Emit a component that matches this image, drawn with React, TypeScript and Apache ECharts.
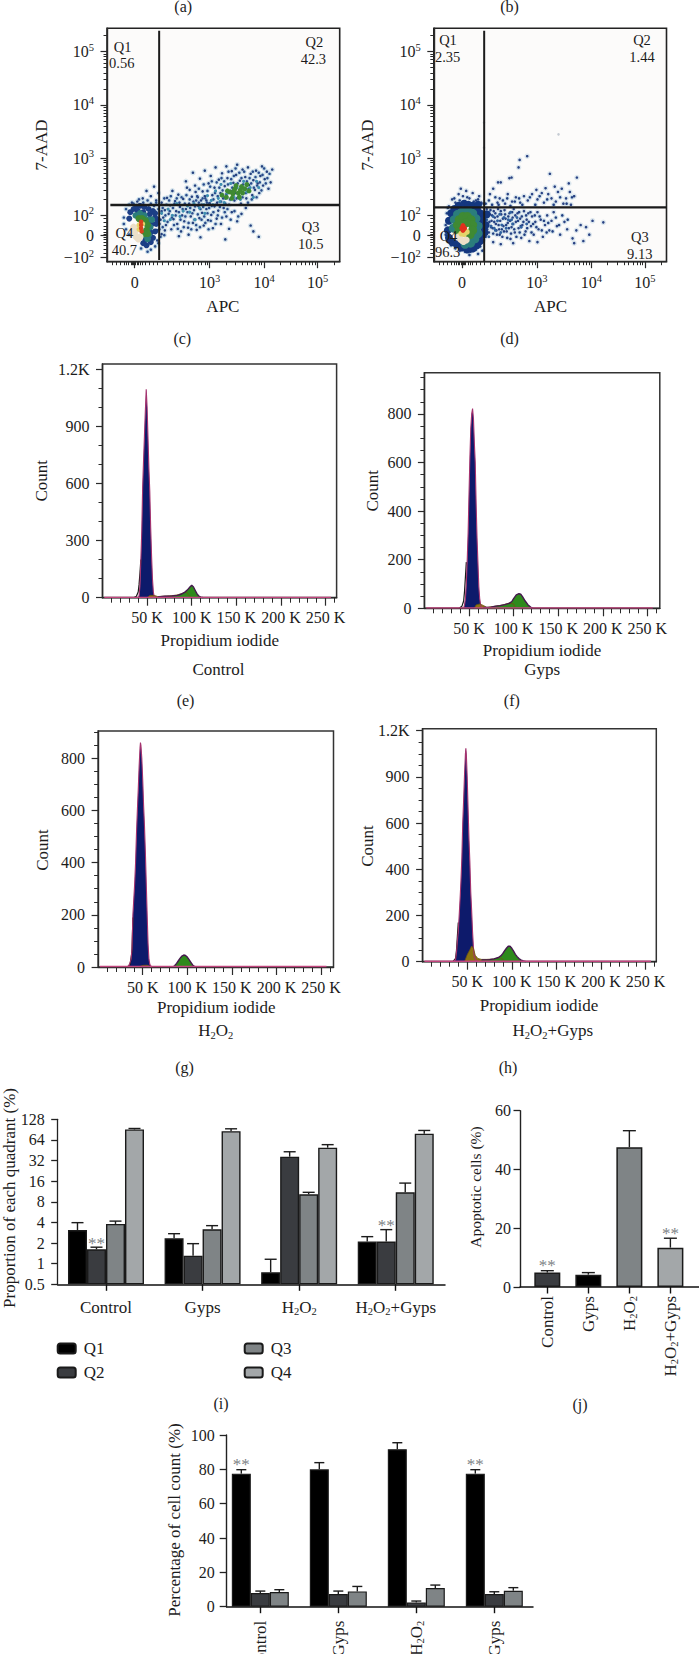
import React, { useEffect, useRef } from "react";
import * as echarts from "echarts";

const FONT = '"Liberation Serif", serif';
const INK = "#1c1c1c";

// ---------- flow cytometry panels: positions are in decades of the biexponential axis ----------
const flowXMajor = [0, 1.39, 2.4, 3.39];
const flowXLabels = ["0", "3", "4", "5"];
const flowYMajor = [-0.41, 0, 0.3875, 1.45, 2.45, 3.45];
const flowYLabels = ["-2", "0", "2", "3", "4", "5"];
const flowXMinor = [-0.42, -0.34, -0.27, -0.2, -0.15, -0.11, -0.07, -0.04, -0.02, 0.02, 0.04, 0.07, 0.11, 0.15, 0.2, 0.27, 0.34, 0.42, 0.52, 0.62, 0.72, 0.82, 0.9, 1.0, 1.09, 1.17, 1.24, 1.3, 1.35, 1.69, 1.87, 1.99, 2.09, 2.17, 2.24, 2.3, 2.35, 2.7, 2.88, 3.0, 3.09, 3.17, 3.24, 3.3, 3.35, 3.69];
const flowYMinor = [-0.33, -0.25, -0.18, -0.12, -0.07, -0.03, 0.03, 0.07, 0.12, 0.18, 0.25, 0.33, 0.68, 0.86, 0.98, 1.08, 1.17, 1.25, 1.31, 1.37, 1.41, 1.75, 1.93, 2.05, 2.15, 2.23, 2.3, 2.36, 2.41, 2.75, 2.93, 3.05, 3.15, 3.23, 3.3, 3.36, 3.41, 3.75];

const cNavy = [[0.95,1.02],[1.02,0.86],[1.08,1.18],[1.12,0.94],[1.17,0.72],[1.21,1.07],[1.26,0.83],[1.3,1.22],[1.33,0.66],[1.37,0.98],[1.41,1.12],[1.44,0.76],[1.48,0.9],[1.5,1.28],[1.53,0.62],[1.56,1.05],[1.59,0.8],[1.62,1.17],[1.64,0.7],[1.67,0.93],[1.7,1.3],[1.72,1.08],[1.75,0.58],[1.78,0.84],[1.8,1.21],[1.83,0.99],[1.85,0.66],[1.88,1.14],[1.9,1.33],[1.93,0.77],[1.95,1.03],[1.97,0.6],[2.0,1.24],[2.02,0.88],[2.05,1.1],[2.07,0.7],[2.1,1.28],[2.12,0.95],[2.15,1.16],[2.18,0.76],[2.2,1.04],[2.23,0.86],[2.25,1.22],[2.28,0.98],[2.31,0.8],[2.33,1.12],[2.36,1.3],[2.38,0.94],[2.41,1.06],[2.45,1.2],[2.48,0.88],[2.52,1.0],[2.55,1.24],
[0.5,0.62],[0.53,0.34],[0.56,0.48],[0.58,0.2],[0.6,0.71],[0.63,0.41],[0.66,0.57],[0.68,0.12],[0.7,0.84],[0.72,0.31],[0.75,0.65],[0.77,0.46],[0.79,0.22],[0.81,0.77],[0.84,0.54],[0.86,0.08],[0.88,0.38],[0.9,0.69],[0.92,0.27],[0.95,0.5],[0.97,0.9],[0.99,0.15],[1.01,0.6],[1.04,0.36],[1.06,0.73],[1.08,0.24],[1.1,0.48],[1.13,0.82],[1.15,0.11],[1.18,0.56],[1.2,0.33],[1.23,0.66],[1.25,0.43],[1.28,0.19],[1.3,0.74],[1.33,0.5],[1.36,0.29],[1.39,0.61],[1.42,0.39],[1.45,0.14],[1.48,0.55],[1.52,0.32],[1.55,0.47],[1.6,0.22],[1.65,0.52],[1.7,0.36],[1.75,0.13],[1.8,0.44],[1.9,0.27],[1.98,0.41],[2.06,0.52],[2.15,0.19],[2.2,0.08],[1.22,-0.03],[1.0,0.02],[0.82,-0.01],[1.68,-0.07],[2.3,-0.02],
[0.44,0.8],[0.36,0.92],[0.3,0.74],[0.22,0.84],[0.15,0.7],[0.05,0.64],[0.4,0.66],[-0.05,0.62],[0.42,0.1],[0.46,0.22],[0.5,0.03],[0.56,0.1],[0.42,-0.09],[0.48,0.3]];
const cNavy2 = [[1.14,0.66],[1.19,0.88],[1.24,0.58],[1.28,0.96],[1.31,0.7],[1.35,0.84],[1.38,0.6],[1.4,0.92],[1.43,1.02],[1.46,0.68],[1.49,0.8],[1.52,1.0],[1.54,0.74],[1.57,0.9],[1.6,0.64],[1.61,1.08],[1.63,0.85],[1.66,1.02],[1.68,0.6],[1.7,0.78],[1.73,0.96],[1.74,1.2],[1.77,0.68],[1.79,1.06],[1.81,0.9],[1.84,1.12],[1.86,0.8],[1.87,1.26],[1.89,0.7],[1.91,0.98],[1.94,1.18],[1.96,0.84],[1.98,1.08],[2.0,0.72],[2.01,0.96],[2.03,1.2],[2.06,0.8],[2.08,1.02],[2.1,0.62],[2.11,0.88],[2.13,1.08],[2.16,0.98],[2.17,0.68],[2.19,1.2],[2.21,0.9],[2.24,1.1],[2.26,0.72],[2.27,0.94],[2.3,1.18],[2.32,1.0],[2.35,0.85],[2.37,1.14],[2.4,1.26],[2.43,0.98],[2.46,1.08],[2.5,1.16],
[0.52,0.52],[0.55,0.7],[0.57,0.38],[0.59,0.58],[0.61,0.26],[0.64,0.66],[0.65,0.46],[0.67,0.74],[0.69,0.34],[0.71,0.52],[0.73,0.2],[0.74,0.6],[0.76,0.38],[0.78,0.7],[0.8,0.13],[0.82,0.44],[0.83,0.62],[0.85,0.3],[0.87,0.72],[0.89,0.5],[0.91,0.16],[0.93,0.6],[0.94,0.36],[0.96,0.76],[0.98,0.44],[1.0,0.24],[1.02,0.68],[1.03,0.52],[1.05,0.12],[1.07,0.42],[1.09,0.64],[1.11,0.3],[1.12,0.55],[1.14,0.2],[1.16,0.74],[1.17,0.4],[1.19,0.62],[1.21,0.16],[1.22,0.5],[1.24,0.3],[1.26,0.7],[1.27,0.54],[1.29,0.36],[1.31,0.24],[1.34,0.62],[1.35,0.42],[1.37,0.12],[1.38,0.52],[1.41,0.28],[1.43,0.56],[1.46,0.44],[1.5,0.22],[1.51,0.58],[1.54,0.38],[1.58,0.54],[1.62,0.34],[1.67,0.44],[1.72,0.5],[1.78,0.3],[1.85,0.46],[1.92,0.36],
[-0.2,0.34],[-0.16,0.5],[-0.1,0.58],[-0.02,0.6],[0.08,0.68],[0.16,0.62],[0.24,0.66],[0.3,0.6],[0.36,0.56],[0.4,0.62],[0.44,0.5],[0.46,0.12],[0.48,-0.02],[0.44,-0.14],[0.38,-0.2],[0.3,-0.26],[0.24,-0.3],[0.12,-0.24],[0.5,0.46],[0.52,0.16],[0.55,0.01],[-0.16,0.12],[-0.2,0.22],[-0.1,0.02]];
const cMid = [[1.35,0.75],[1.42,0.66],[1.5,0.84],[1.55,0.7],[1.6,0.96],[1.66,0.62],[1.72,0.8],[1.78,0.98],[1.84,0.72],[1.9,0.9],[1.96,0.68],[2.02,1.02],[2.08,0.82],[2.14,0.9],[2.2,0.72],[2.26,1.02],[2.3,0.9],[1.1,0.6],[1.2,0.52],[1.28,0.58],[0.9,0.46],[0.98,0.56],[0.78,0.6],[0.7,0.38],[0.62,0.5],[0.55,0.28],[1.12,0.3],[1.3,0.42],[1.45,0.58],[1.58,0.64],[1.68,0.7],[0.66,0.3],[0.84,0.36],[1.02,0.44],[0.5,0.42],[0.46,0.58]];
const cGreen = [[1.62,0.76],[1.7,0.72],[1.76,0.82],[1.82,0.78],[1.86,0.88],[1.92,0.8],[1.98,0.92],[2.04,0.88],[2.08,0.96],[1.94,0.72],[1.8,0.7],[2.0,0.8],[1.72,0.84],[2.12,0.84],[1.88,0.94],[1.84,0.84],[1.96,0.86]];
const cBlobNavy = [[-0.1,0.32],[-0.08,0.44],[-0.02,0.5],[0.04,0.54],[0.1,0.56],[0.18,0.54],[0.26,0.5],[0.34,0.46],[0.38,0.34],[0.4,0.22],[0.38,0.08],[0.34,-0.04],[0.3,-0.12],[0.22,-0.18],[0.16,-0.14],[0.28,0.4],[0.32,0.22],[0.3,0.06],[0.2,-0.08],[0.06,0.46],[0.16,0.44],[0.38,0.42],[0.42,0.3]];
const cBlobTeal = [[0.02,0.38],[0.1,0.42],[0.18,0.38],[0.26,0.3],[0.29,0.16],[0.26,0.02],[0.2,0.0],[0.32,0.3],[0.24,-0.06]];
const cBlobGreen = [[0.08,0.32],[0.14,0.32],[0.2,0.28],[0.24,0.2],[0.22,0.1],[0.24,0.04],[0.18,0.04]];
const cBlobYellow = [[0.08,0.2],[0.08,0.12],[0.15,0.22]];
const cBlobRed = [[0.12,0.26],[0.12,0.2],[0.12,0.14],[0.13,0.08]];
const cBlobPale = [[-0.02,0.16],[0.0,0.06],[0.03,-0.02],[0.07,-0.06],[0.04,0.12],[0.1,-0.02]];

const dNavy = [[1.21,1.49],[1.07,1.42],[1.05,1.28],[1.63,1.16],[2.13,1.09],[0.92,1.09],[0.67,1.0],[1.98,0.98],[0.72,1.0],[0.88,1.08],[1.38,0.86],[1.55,0.89],[1.72,0.92],[1.78,0.82],[1.85,0.88],[1.93,0.7],[2.0,0.82],[2.08,0.74],[1.6,0.78],[1.48,0.8],[1.3,0.78],[1.15,0.74],[1.0,0.72],[0.85,0.78],[0.7,0.7],[0.58,0.88],[0.52,0.78],[1.4,0.68],[1.52,0.62],[1.66,0.7],[1.22,0.66],[1.08,0.62],[0.93,0.64],[0.8,0.6],[0.66,0.62],[2.02,0.58],[1.88,0.6],[1.74,0.64],
[0.42,0.34],[0.46,0.5],[0.48,0.2],[0.5,0.06],[0.52,0.4],[0.55,0.28],[0.57,0.14],[0.59,0.46],[0.61,0.34],[0.63,0.22],[0.65,0.02],[0.67,0.5],[0.69,0.12],[0.71,0.28],[0.73,0.4],[0.75,-0.02],[0.77,0.18],[0.79,0.48],[0.81,0.32],[0.83,0.08],[0.85,0.24],[0.88,0.42],[0.9,-0.06],[0.92,0.16],[0.94,0.34],[0.96,0.5],[0.98,0.06],[1.0,0.26],[1.03,0.42],[1.05,0.14],[1.08,0.32],[1.1,-0.04],[1.12,0.2],[1.15,0.46],[1.18,0.08],[1.2,0.3],[1.23,0.42],[1.25,-0.1],[1.28,0.18],[1.3,0.36],[1.33,0.02],[1.36,0.26],[1.4,0.44],[1.42,0.12],[1.46,0.3],[1.5,-0.02],[1.54,0.2],[1.58,0.38],[1.62,0.1],[1.66,0.28],[1.7,0.44],[1.76,0.18],[1.82,0.02],[1.9,0.26],[1.95,0.12],[2.05,-0.05],[2.12,0.1],[2.2,0.2],[2.3,0.16],[2.36,0.02],[2.25,-0.1],[2.08,-0.14],[1.4,-0.12],[0.95,-0.14],[0.72,-0.16],[0.58,-0.12],[2.62,0.25],[2.42,0.28],
[-0.24,0.55],[-0.18,0.68],[-0.12,0.62],[-0.06,0.78],[0.02,0.74],[0.08,0.84],[0.14,0.7],[0.2,0.8],[0.26,0.66],[0.32,0.74],[0.36,0.62],[-0.02,0.88],[0.06,0.65]];
const dNavy2 = [[0.45,0.42],[0.47,0.12],[0.49,0.36],[0.51,0.26],[0.53,0.48],[0.54,0.16],[0.56,0.38],[0.58,0.04],[0.6,0.26],[0.62,0.42],[0.64,0.1],[0.66,0.36],[0.68,0.2],[0.7,0.02],[0.72,0.46],[0.74,0.12],[0.76,0.32],[0.78,0.08],[0.8,0.4],[0.82,0.2],[0.84,-0.04],[0.86,0.36],[0.87,0.14],[0.89,0.28],[0.91,0.04],[0.93,0.44],[0.95,0.22],[0.97,0.12],[0.99,0.38],[1.01,-0.02],[1.04,0.28],[1.06,0.44],[1.07,0.06],[1.09,0.18],[1.11,0.36],[1.14,0.26],[1.16,0.02],[1.19,0.38],[1.21,0.14],[1.24,0.26],[1.27,0.44],[1.29,0.06],[1.32,0.22],[1.35,0.38],[1.38,0.16],[1.44,0.36],[1.48,0.1],[1.52,0.28],[1.57,0.06],[1.6,0.24],[1.68,0.08],[1.74,0.34],[1.8,0.2],[1.86,0.38],[1.96,0.3],
[0.44,0.6],[0.5,0.66],[0.56,0.58],[0.62,0.72],[0.68,0.58],[0.76,0.66],[0.84,0.7],[0.9,0.56],[0.98,0.64],[1.06,0.7],[1.12,0.58],[1.26,0.72],[1.36,0.58],[1.44,0.74],[1.58,0.68],[1.7,0.58],[1.82,0.72],[1.94,0.6],[2.04,0.72],
[-0.28,0.42],[-0.3,0.2],[-0.3,0.02],[-0.26,-0.1],[-0.2,-0.18],[-0.12,-0.24],[-0.04,-0.28],[0.06,-0.3],[0.16,-0.3],[0.26,-0.26],[0.34,-0.2],[0.4,-0.08],[0.44,-0.02],[-0.26,0.52],[-0.14,0.7],[-0.04,0.66],[0.1,0.72],[0.22,0.64],[0.3,0.68],[0.4,0.6],[0.38,-0.28],[0.3,-0.34],[0.14,-0.36]];
const dMid = [[0.46,0.3],[0.5,0.44],[0.54,0.18],[0.58,0.36],[0.62,0.1],[0.66,0.28],[0.7,0.4],[0.74,0.2],[0.78,0.34],[0.82,0.14],[0.86,0.3],[0.9,0.44],[0.94,0.22],[1.02,0.34],[1.1,0.16],[1.2,0.22],[0.5,-0.02],[0.44,0.1],[0.6,0.14],[0.72,0.06],[0.92,0.3]];
const dBlobNavy = [[-0.26,0.1],[-0.24,0.28],[-0.2,0.42],[-0.14,0.5],[-0.06,0.56],[0.04,0.6],[0.12,0.58],[0.2,0.56],[0.28,0.5],[0.34,0.42],[0.38,0.3],[0.4,0.16],[0.38,0.02],[0.34,-0.1],[0.28,-0.18],[0.2,-0.24],[0.1,-0.26],[-0.24,-0.04],[-0.18,-0.12],[-0.1,-0.16],[0.0,-0.22],[0.46,0.4],[0.44,0.2],[0.42,0.06],[0.3,0.58]];
const dBlobTeal = [[-0.16,0.14],[-0.14,0.3],[-0.08,0.4],[0.02,0.46],[0.12,0.46],[0.2,0.42],[0.26,0.32],[0.3,0.18],[0.3,0.04],[0.24,-0.06],[0.16,-0.14],[0.06,-0.16]];
const dBlobGreen = [[-0.08,0.2],[-0.05,0.3],[0.02,0.36],[0.1,0.36],[0.17,0.3],[0.2,0.2],[0.2,0.1],[0.15,0.02],[-0.06,0.08],[0.08,0.24]];
const dBlobYellow = [[-0.01,0.04],[0.04,0.03],[0.09,0.07]];
const dBlobRed = [[0.0,0.14],[0.05,0.14],[0.02,0.19],[0.02,0.1]];
const dBlobPale = [[-0.02,-0.07],[0.03,-0.11],[-0.06,-0.02],[0.08,-0.08]];
const dFaint = [[1.79,1.9],[0.41,2.12],[0.41,1.65]];

// ---------- DNA content histograms ----------
const histXMajor = [50, 100, 150, 200, 250];
const histXMinor = [10, 20, 30, 40, 60, 70, 80, 90, 110, 120, 130, 140, 160, 170, 180, 190, 210, 220, 230, 240, 260];

const eG1 = [[40,0],[41,10],[42,60],[43,200],[44,350],[45,580],[46,720],[47,850],[48,980],[49,1095],[50,1000],[51,840],[52,680],[53,560],[54,370],[55,220],[56,100],[57,30],[58,5],[59,0]];
const eFlank = [[35,0],[38,8],[40,30],[41,70],[42,130],[43,200]];
const eS = [[50,0],[53,12],[58,12],[62,6],[68,8],[75,10],[80,12],[85,16],[90,24],[94,30],[98,6],[100,0]];
const eG2 = [[62,4],[70,8],[78,9],[84,12],[88,18],[92,28],[95,40],[98,56],[100,66],[102,56],[104,38],[106,20],[108,9],[110,3],[113,0]];
const fG1 = [[44,0],[45,15],[46,40],[47,100],[48,200],[49,310],[50,470],[51,620],[52,740],[53,800],[54,822],[55,780],[56,680],[57,600],[58,430],[59,290],[60,190],[61,90],[62,40],[63,15],[64,3]];
const fFlank = [[39,0],[42,8],[44,30],[45,70],[46,130],[47,190]];
const fS = [[56,0],[58,14],[62,18],[66,12],[70,4],[78,8],[85,12],[90,16],[95,22],[100,18],[102,0]];
const fG2 = [[66,3],[75,5],[80,9],[85,11],[90,15],[95,20],[98,28],[100,40],[103,55],[106,60],[108,58],[110,48],[113,30],[116,15],[119,5],[122,0]];
const gG1 = [[33,0],[35,8],[37,30],[38,70],[39,200],[40,260],[41,320],[42,400],[43,510],[44,600],[45,680],[46,770],[47,840],[47.5,860],[48,850],[49,800],[50,720],[51,620],[52,540],[53,440],[54,320],[55,200],[56,90],[57,30],[58,10],[60,0]];
const gFlank = [[33,0],[36,12],[38,60],[39,190]];
const gS = [[45,0],[50,6],[55,7],[60,0]];
const gG2 = [[84,0],[86,6],[88,14],[90,24],[92,34],[94,42],[96,46],[98,44],[100,38],[102,28],[104,18],[106,8],[108,2],[110,0]];
const hG1 = [[35,0],[37,10],[38,40],[39,90],[40,130],[41,200],[42,270],[43,350],[44,450],[45,600],[46,700],[47,810],[48,900],[48.5,924],[49,900],[50,800],[51,660],[52,530],[53,430],[54,300],[55,220],[56,130],[57,60],[58,20],[60,5],[62,0]];
const hFlank = [[34,0],[37,14],[38,50],[39,110],[40,170]];
const hS = [[47,0],[50,30],[53,52],[55,68],[57,58],[59,28],[62,14],[66,10],[72,10],[80,12],[86,18],[90,10],[92,0]];
const hG2 = [[66,8],[75,9],[80,12],[85,18],[88,26],[90,36],[92,48],[94,58],[96,67],[98,67],[100,58],[102,46],[104,32],[106,22],[108,14],[110,8],[113,3],[116,0]];
const baseline = [[2,2],[256,2]];

// ---------- bar panels ----------
const groups = ["Control", "Gyps", "H2O2", "H2O2+Gyps"];
const groupPos = [0, 1, 2, 3];
const quadNames = ["Q1", "Q2", "Q3", "Q4"];
const quadBars = [[3.1, 2.35, 0.75, 2.1], [1.62, 1.31, 36.4, 2.1], [3.8, 3.17, 10.3, 11], [91, 86, 49.3, 79]];
const quadErrs = [[3.97, 2.74, 1.16, 2.48], [1.74, 1.96, 43, 3.14], [4.18, 3.59, 11, 15], [94, 93, 54.6, 88]];
const quadStars = [[0, 0, 0, 0], [1, 0, 0, 1], [0, 0, 0, 0], [0, 0, 0, 0]];
const apoBars = [4.9, 4.2, 47.6, 13.4];
const apoErrs = [5.55, 4.9, 53.2, 16.6];
const apoStars = [1, 0, 0, 1];
const phaseNames = ["G0/G1", "S", "G2/M"];
const phaseBars = [[77.5, 80, 91.7, 77.5], [8, 7.4, 2.5, 7.4], [8.5, 8.9, 10.9, 9.3]];
const phaseErrs = [[79.8, 83.9, 95.5, 79.8], [9.1, 9.1, 3.3, 8.7], [9.9, 11.8, 12.6, 11.1]];
const phaseStars = [[1, 0, 0, 1], [0, 0, 0, 0], [0, 0, 0, 0]];
const barColors = ["#000000", "#3a3c40", "#7f8486", "#a3a7a9"];
const apoColors = ["#3a3c40", "#000000", "#7f8486", "#a3a7a9"];

const richBase = {
  b: { fontFamily: FONT, fontSize: 17, color: INK, lineHeight: 20 },
  sub: { fontFamily: FONT, fontSize: 10.5, color: INK, lineHeight: 20, verticalAlign: "bottom", padding: [7, 0, 0, 0] },
  sup: { fontFamily: FONT, fontSize: 10.5, color: INK, lineHeight: 20, verticalAlign: "top", padding: [0, 0, 7, 0] },
  t: { fontFamily: FONT, fontSize: 16, color: INK, lineHeight: 20 },
};
const chem = (s: string) => s.split(/(2)/).map((p, i) => (p === "2" ? `{sub|2}` : p ? `{b|${p}}` : "")).join("");
// the quadrant axis is a base-2 log axis whose floor is 0.5; heights are counted from that floor
const log2Floor = (v: number) => Math.log2(v) + 1;

const App = () => {
  const ref = useRef<HTMLDivElement>(null);
  useEffect(() => {
    const chart = echarts.init(ref.current!, null, { renderer: "svg" });
    const grid: any[] = [];
    const xAxis: any[] = [];
    const yAxis: any[] = [];
    const series: any[] = [];
    const texts: any[] = [];

    const addGrid = (g: any) => grid.push({ outerBoundsMode: "none", containLabel: false, ...g });

    const T = (text: string, x: number, y: number, size = 17, rotation = 0, rich = false) => {
      texts.push({
        type: "text", x, y, rotation, z: 50,
        style: {
          text, align: "center", verticalAlign: "middle", fontFamily: FONT, fontSize: size, fill: INK,
          ...(rich ? { rich: richBase } : {}),
        },
      });
    };

    const addAxes = (kind: "x" | "y", gi: number, min: number, max: number, minor: number[], major: number[], fmt: (v: number) => string, opt: any = {}) => {
      const list = kind === "x" ? xAxis : yAxis;
      const pos = kind === "x" ? "bottom" : "left";
      const color = opt.color || "#2a2a2a";
      list.push({
        gridIndex: gi, type: "value", position: pos, min, max, splitLine: { show: false },
        axisLine: { show: true, onZero: false, lineStyle: { color, width: opt.lineWidth || 1.4 } },
        axisTick: { show: minor.length > 0, customValues: minor, length: opt.minorLen || 3.5, lineStyle: { color, width: 1 } },
        axisLabel: { show: false },
      });
      list.push({
        gridIndex: gi, type: "value", position: pos, min, max, splitLine: { show: false },
        axisLine: { show: false, onZero: false },
        axisTick: { show: true, customValues: major, length: opt.majorLen || 6.5, lineStyle: { color, width: opt.tickWidth || 1.2 } },
        axisLabel: {
          show: true, customValues: major, formatter: fmt, margin: opt.margin ?? 12, rotate: opt.rotate || 0,
          fontFamily: FONT, fontSize: opt.fontSize || 16, color: INK, rich: richBase, hideOverlap: false, showMinLabel: true, showMaxLabel: true,
        },
      });
    };

    // ---- flow panels
    const flow = (box: number[], xMin: number, xMax: number, gateV: number, gateVTop: number, gateVBot: number, gateH: number, gateHLeft: number, layers: any[]) => {
      const gi = grid.length;
      addGrid({ left: box[0], top: box[1], width: box[2] - box[0], height: box[3] - box[1], show: true, backgroundColor: "#fcfbfa", borderColor: "#222", borderWidth: 1.6 });
      const labelOf = (ticks: number[], lab: string[], v: number) => {
        let k = 0;
        ticks.forEach((t, i) => { if (Math.abs(t - v) < Math.abs(ticks[k] - v)) k = i; });
        const s = lab[k];
        if (s === "0") return "{t|0}";
        return s[0] === "-" ? `{t|−10}{sup|2}` : `{t|10}{sup|${s}}`;
      };
      addAxes("x", gi, xMin, xMax, flowXMinor, flowXMajor, (v) => labelOf(flowXMajor, flowXLabels, v), { margin: 11, fontSize: 16 });
      addAxes("y", gi, -0.4875, 3.8875, flowYMinor, flowYMajor, (v) => labelOf(flowYMajor, flowYLabels, v), { margin: 13, fontSize: 16 });
      const xi = xAxis.length - 2, yi = yAxis.length - 2;
      layers.forEach(([data, color, size]) => {
        series.push({ type: "scatter", xAxisIndex: xi, yAxisIndex: yi, data, symbolSize: size, itemStyle: { color, opacity: 1 }, silent: true });
      });
      const gate = (data: number[][], width: number) => series.push({ type: "line", xAxisIndex: xi, yAxisIndex: yi, data, showSymbol: false, lineStyle: { color: "#1b1b1b", width }, silent: true, z: 10 });
      gate([[gateV, gateVBot], [gateV, gateVTop]], 2);
      gate([[gateHLeft, gateH], [xMax, gateH]], 2.4);
    };
    flow([107, 28.3, 339.7, 261.7], -0.512, 3.8, 0.4545, 3.84, -0.455, 0.575, -0.45, [
      [cNavy, "#d6e4ec", 5.5], [cNavy2, "#c7dde8", 5], [cNavy, "#24407f", 2.6], [cNavy2, "#2a4c8c", 2.6], [cMid, "#3f8fb0", 3.2], [cGreen, "#3f8a33", 5],
      [cBlobNavy, "#1c3f86", 6], [cBlobTeal, "#2b7d7c", 6.5], [cBlobGreen, "#3f8a33", 7], [cBlobPale, "#ecdfc8", 7], [cBlobYellow, "#e5d46a", 5], [cBlobRed, "#d9421e", 4.5],
    ]);
    flow([433.8, 28.3, 666.5, 261.7], -0.52, 3.79, 0.413, 3.84, -0.4875, 0.53, -0.52, [
      [dFaint, "#c5cbd2", 2.6], [dNavy, "#dde7ee", 5.5], [dNavy2, "#cfe0ea", 5], [dNavy, "#2a4384", 2.6], [dNavy2, "#223f82", 2.6], [dMid, "#2f62a0", 3], [dBlobNavy, "#14377f", 8],
      [dBlobTeal, "#2b7d7c", 9], [dBlobGreen, "#3f8a33", 9], [dBlobPale, "#ecdfc8", 7], [dBlobYellow, "#e5d46a", 6], [dBlobRed, "#e0301c", 5],
    ]);

    // ---- histograms
    const hist = (box: number[], xMax: number, yMax: number, yMajor: number[], yLabels: string[], yMinor: number[], G1: number[][], flank: number[][], S: number[][], G2: number[][]) => {
      const gi = grid.length;
      addGrid({ left: box[0], top: box[1], width: box[2] - box[0], height: box[3] - box[1], show: true, borderColor: "#333", borderWidth: 1.5, backgroundColor: "#fff" });
      addAxes("x", gi, 0, xMax, histXMinor, histXMajor, (v) => `${v} K`, { margin: 12, majorLen: 8, minorLen: 5 });
      addAxes("y", gi, 0, yMax, yMinor, yMajor, (v) => yLabels[yMajor.indexOf(v)] ?? "", { margin: 13, majorLen: 6.5, minorLen: 4 });
      const xi = xAxis.length - 2, yi = yAxis.length - 2;
      const ln = (data: number[][], color: string, width: number, fill?: string) => series.push({
        type: "line", xAxisIndex: xi, yAxisIndex: yi, data, showSymbol: false, silent: true,
        lineStyle: { color, width }, ...(fill ? { areaStyle: { color: fill, opacity: 1 } } : {}),
      });
      ln(flank, "#1a1a1a", 1.2);
      ln(G1, "#a5336f", 1.1, "#0d1a6b");
      ln(S, "#6e5410", 0.8, "#8c7410");
      ln(G2, "#45184e", 1.4, "#2e8a1c");
      ln(baseline, "#c2457e", 1.3);
    };
    hist([102.5, 364, 336.6, 597.7], 262.4, 1228, [0, 300, 600, 900, 1200], ["0", "300", "600", "900", "1.2K"], [100, 200, 400, 500, 700, 800, 1000, 1100], eG1, eFlank, eS, eG2);
    hist([424.4, 372.7, 659.8, 608.3], 263.9, 969.6, [0, 200, 400, 600, 800], ["0", "200", "400", "600", "800"], [50, 100, 150, 250, 300, 350, 450, 500, 550, 650, 700, 750, 850, 900, 950], fG1, fFlank, fS, fG2);
    hist([98.1, 731, 333.5, 967], 263.9, 904.7, [0, 200, 400, 600, 800], ["0", "200", "400", "600", "800"], [50, 100, 150, 250, 300, 350, 450, 500, 550, 650, 700, 750, 850, 900], gG1, gFlank, gS, gG2);
    hist([422.6, 728.7, 656.3, 961.7], 262, 1008.7, [0, 200, 400, 600, 800, 1000], ["0", "200", "400", "600", "900", "1.2K"], [50, 100, 150, 250, 300, 350, 450, 500, 550, 650, 700, 750, 850, 900, 950], hG1, hFlank, hS, hG2);

    // ---- bar panels
    const errSeries = (xi: number, yi: number, name: string, offset: number, xs: number[], bars: number[], errs: number[], stars: number[], capW: number, starGap: number) => {
      series.push({
        type: "custom", name, xAxisIndex: xi, yAxisIndex: yi, silent: true, z: 4, clip: false,
        data: xs.map((x, i) => [x, bars[i], errs[i], stars[i]]),
        encode: { x: 0, y: 2 },
        renderItem: (_: any, api: any) => {
          const a = api.coord([api.value(0), api.value(1)]);
          const b = api.coord([api.value(0), api.value(2)]);
          const x = a[0] + offset;
          const s = { stroke: "#1c1c1c", lineWidth: 1.4, fill: "none" };
          const children: any[] = [
            { type: "line", shape: { x1: x, y1: a[1], x2: x, y2: b[1] }, style: s },
            { type: "line", shape: { x1: x - capW / 2, y1: b[1], x2: x + capW / 2, y2: b[1] }, style: s },
          ];
          if (api.value(3)) children.push({ type: "text", style: { text: "**", x, y: b[1] - starGap, align: "center", verticalAlign: "middle", fontFamily: FONT, fontSize: 17, fill: "#7d8285" } });
          return { type: "group", children };
        },
      });
    };
    const barAxes = (gi: number, xMin: number, xMax: number, rotate: number, margin: number) => {
      addAxes("x", gi, xMin, xMax, [], groupPos, (v) => chem(groups[Math.round(v)]), { margin, rotate, color: "#111", lineWidth: 1.5, tickWidth: 1.4, majorLen: 6.5 });
    };

    // (i)
    let gi = grid.length;
    addGrid({ left: 57.7, top: 1119.3, width: 387.3, height: 165 });
    barAxes(gi, -0.5, 3.51, 0, 13);
    yAxis.push({
      gridIndex: gi, type: "value", min: 0, max: 8, interval: 1, splitLine: { show: false },
      axisLine: { show: true, onZero: false, lineStyle: { color: "#222", width: 1.3 } },
      axisTick: { show: true, length: 6.5, lineStyle: { color: "#222", width: 1.3 } },
      axisLabel: { margin: 13, fontFamily: FONT, fontSize: 16, color: INK, formatter: (v: number) => String(Math.pow(2, v - 1)), showMinLabel: true, showMaxLabel: true },
    });
    let xi = xAxis.length - 2, yi = yAxis.length - 1;
    quadNames.forEach((n, k) => {
      series.push({
        type: "bar", name: n, xAxisIndex: xi, yAxisIndex: yi, barWidth: 19, barGap: "0%",
        data: groupPos.map((x, i) => [x, log2Floor(quadBars[k][i])]), itemStyle: { color: barColors[k], borderColor: "#1a1a1a", borderWidth: 1.4 }, silent: true,
      });
    });
    quadNames.forEach((n, k) => errSeries(xi, yi, "err" + n, (k - 1.5) * 19, groupPos, quadBars[k].map(log2Floor), quadErrs[k].map(log2Floor), quadStars[k], 12, 4));

    // (j)
    gi = grid.length;
    addGrid({ left: 520, top: 1110.7, width: 178.7, height: 176.3 });
    barAxes(gi, -0.666, 3.69, 90, 9);
    yAxis.push({
      gridIndex: gi, type: "value", min: 0, max: 60, interval: 20, splitLine: { show: false },
      axisLine: { show: true, onZero: false, lineStyle: { color: "#222", width: 1.4 } },
      axisTick: { show: true, length: 6.5, lineStyle: { color: "#222", width: 1.3 } },
      axisLabel: { margin: 9, fontFamily: FONT, fontSize: 16, color: INK },
    });
    xi = xAxis.length - 2; yi = yAxis.length - 1;
    series.push({
      type: "bar", xAxisIndex: xi, yAxisIndex: yi, barWidth: 26, silent: true,
      data: groupPos.map((x, i) => ({ value: [x, apoBars[i]], itemStyle: { color: apoColors[i], borderColor: "#1a1a1a", borderWidth: 1.5 } })),
    });
    errSeries(xi, yi, "apoErr", 0, groupPos, apoBars, apoErrs, apoStars, 13, 5);

    // (k)
    gi = grid.length;
    addGrid({ left: 226.7, top: 1435, width: 306.3, height: 171.7 });
    barAxes(gi, -0.431, 3.496, 90, 14);
    yAxis.push({
      gridIndex: gi, type: "value", min: 0, max: 100, interval: 20, splitLine: { show: false },
      axisLine: { show: true, onZero: false, lineStyle: { color: "#222", width: 1.4 } },
      axisTick: { show: true, length: 7, lineStyle: { color: "#222", width: 1.3 } },
      axisLabel: { margin: 12, fontFamily: FONT, fontSize: 16, color: INK },
    });
    xi = xAxis.length - 2; yi = yAxis.length - 1;
    phaseNames.forEach((n, k) => {
      series.push({
        type: "bar", name: n, xAxisIndex: xi, yAxisIndex: yi, barWidth: 19, barGap: "0%", silent: true,
        data: groupPos.map((x, i) => [x, phaseBars[k][i]]), itemStyle: { color: barColors[k], borderColor: "#1a1a1a", borderWidth: 1.2 },
      });
    });
    phaseNames.forEach((n, k) => errSeries(xi, yi, "err" + n, (k - 1) * 19, groupPos, phaseBars[k], phaseErrs[k], phaseStars[k], 10, 5));

    // ---- text
    const letters: [string, number, number][] = [["(a)", 183.2, 6.7], ["(b)", 509.6, 6.7], ["(c)", 182.3, 338], ["(d)", 509.6, 338], ["(e)", 185.5, 700], ["(f)", 511.8, 700], ["(g)", 184.5, 1067], ["(h)", 508, 1067], ["(i)", 221, 1403], ["(j)", 580, 1404]];
    letters.forEach(([t, x, y]) => T(t, x, y, 16));
    const quadLabels: [string, number, number][] = [["Q1", 122.6, 46.7], ["0.56", 121.7, 63.3], ["Q2", 314.3, 42.3], ["42.3", 313.4, 59], ["Q3", 310.7, 226.7], ["10.5", 310.7, 244], ["Q4", 124.4, 233], ["40.7", 124.4, 250], ["Q1", 448, 40], ["2.35", 447.6, 56.7], ["Q2", 642, 40], ["1.44", 642, 56.7], ["Q3", 639.8, 236.7], ["9.13", 639.8, 254], ["Q4", 448.5, 236], ["96.3", 447.6, 252]];
    quadLabels.forEach(([t, x, y]) => T(t, x, y, 14.5));
    T("APC", 222.9, 306.7); T("APC", 550.6, 306.7);
    T("7-AAD", 41, 145, 17, Math.PI / 2); T("7-AAD", 367.8, 145, 17, Math.PI / 2);
    T("Count", 41, 480.7, 17, Math.PI / 2); T("Count", 372.3, 490.7, 17, Math.PI / 2); T("Count", 42.4, 850, 17, Math.PI / 2); T("Count", 367.8, 846, 17, Math.PI / 2);
    T("Propidium iodide", 219.8, 640); T("Propidium iodide", 542.1, 650); T("Propidium iodide", 216.2, 1007.7); T("Propidium iodide", 539, 1005);
    T("Control", 218.5, 669); T("Gyps", 542.1, 669);
    T(chem("H2O2"), 215.8, 1030.7, 17, 0, true); T(chem("H2O2+Gyps"), 552.8, 1030.7, 17, 0, true);
    T("Proportion of each quadrant (%)", 9.5, 1198, 17, Math.PI / 2);
    T("Apoptotic cells (%)", 475, 1187, 15.5, Math.PI / 2);
    T("Percentage of cell count (%)", 174, 1520, 17, Math.PI / 2);

    const legendBase = { orient: "vertical", top: 1340, padding: 0, itemWidth: 18, itemHeight: 10, itemGap: 7, selectedMode: false, textStyle: { fontFamily: FONT, fontSize: 17, color: INK, padding: [0, 0, 0, 3] } };
    chart.setOption({
      animation: false,
      backgroundColor: "#ffffff",
      grid, xAxis, yAxis, series,
      legend: [
        { ...legendBase, data: ["Q1", "Q2"], left: 56.7 },
        { ...legendBase, data: ["Q3", "Q4"], left: 243.7 },
      ],
      graphic: texts,
    });
    return () => chart.dispose();
  }, []);
  return <div ref={ref} style={{ position: "absolute", left: 0, top: 0, width: 699, height: 1654, background: "#fff" }} />;
};

export default App;
